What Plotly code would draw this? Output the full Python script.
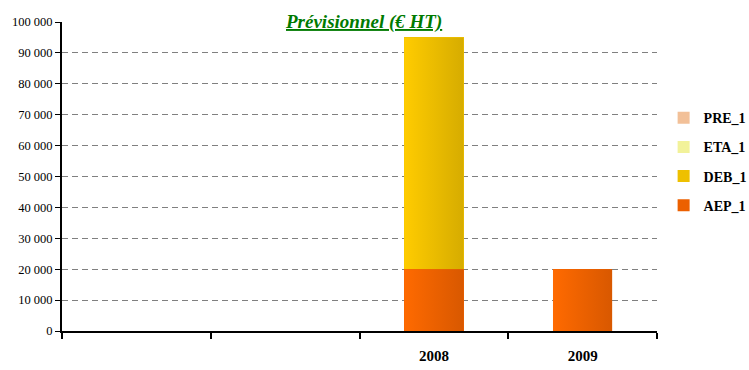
import base64
import plotly.graph_objects as go

# Categories (two unlabeled slots before the years)
categories = ["\u00a0", "\u00a0\u00a0", "2008", "2009"]

# Series values (€ HT), bottom to top of each stack
aep_1 = [None, None, 20000, 20000]
deb_1 = [None, None, 75000, None]
eta_1 = [None, None, None, None]
pre_1 = [None, None, None, None]

y_ticks = list(range(0, 100001, 10000))

series = [
    ("AEP_1", aep_1, "#EC6000", ("#FF6A00", "#D85800")),
    ("DEB_1", deb_1, "#EEC000", ("#FFCC00", "#D6AC00")),
    ("ETA_1", eta_1, "#F2F29A", ("#FAFAB0", "#E6E680")),
    ("PRE_1", pre_1, "#F2C098", ("#F8CCA4", "#E8B084")),
]

BAR_WIDTH = 0.4


def gradient_uri(c0, c1):
    svg = (
        '<svg xmlns="http://www.w3.org/2000/svg" width="100" height="100" '
        'preserveAspectRatio="none" viewBox="0 0 100 100">'
        '<defs><linearGradient id="g" x1="0" y1="0" x2="1" y2="0">'
        f'<stop offset="0" stop-color="{c0}"/><stop offset="1" stop-color="{c1}"/>'
        '</linearGradient></defs><rect width="100" height="100" fill="url(#g)"/></svg>'
    )
    return "data:image/svg+xml;base64," + base64.b64encode(svg.encode()).decode()


fig = go.Figure()
images = []
base = [0] * len(categories)
for k, (name, vals, color, (g0, g1)) in enumerate(series):
    # legend lists the top of the stack first
    fig.add_trace(go.Bar(
        x=categories, y=vals, name=name, width=BAR_WIDTH, legendgroup=name,
        legendrank=len(series) - k,
        marker=dict(color=color, line=dict(width=0)),
    ))
    uri = gradient_uri(g0, g1)
    for i, v in enumerate(vals):
        if v:
            top = base[i] + v
            images.append(dict(
                source=uri, xref="x", yref="y",
                x=i - BAR_WIDTH / 2, y=top, sizex=BAR_WIDTH, sizey=v,
                xanchor="left", yanchor="top", sizing="stretch", layer="above",
            ))
            base[i] = top

fig.update_layout(
    width=749, height=370,
    margin=dict(l=62, r=92, t=22, b=39, autoexpand=False),
    paper_bgcolor="white", plot_bgcolor="white",
    barmode="stack", bargap=0.6,
    separators=", ",
    images=images,
    font=dict(family="Liberation Serif, Times New Roman, serif", color="black", size=12),
    legend=dict(
        xref="container", yref="container",
        x=0.886, y=0.724, xanchor="left", yanchor="top",
        traceorder="grouped",
        font=dict(size=14, family="Liberation Serif, serif", color="black", weight="bold"),
        itemwidth=30, tracegroupgap=8,
        bgcolor="rgba(0,0,0,0)",
    ),
    xaxis=dict(
        type="category", range=[-0.5, 3.5], automargin=False,
        showline=True, linecolor="black", linewidth=2,
        ticks="outside", tickson="boundaries", ticklen=6, tickcolor="black", tickwidth=1.5,
        showgrid=False,
        tickfont=dict(size=15, family="Liberation Serif, serif", color="black", weight="bold"),
        ticklabelstandoff=10,
    ),
    yaxis=dict(
        range=[0, 100000], tickvals=y_ticks, tickformat=",d", automargin=False,
        showline=True, linecolor="black", linewidth=2,
        ticks="outside", ticklen=5, tickcolor="black",
        showgrid=True, gridcolor="#808080", griddash="6px,4px", gridwidth=1,
        zeroline=False,
        tickfont=dict(size=12.5, family="Liberation Serif, serif", color="black"),
    ),
    annotations=[dict(
        text="<b><i><u>Prévisionnel (€ HT)</u></i></b>",
        xref="paper", yref="paper", x=0.506, y=1.0, yanchor="middle",
        showarrow=False, bgcolor="white",
        font=dict(size=19, family="Liberation Serif, serif", color="#007A00"),
    )],
)

fig.write_html("out.html")
